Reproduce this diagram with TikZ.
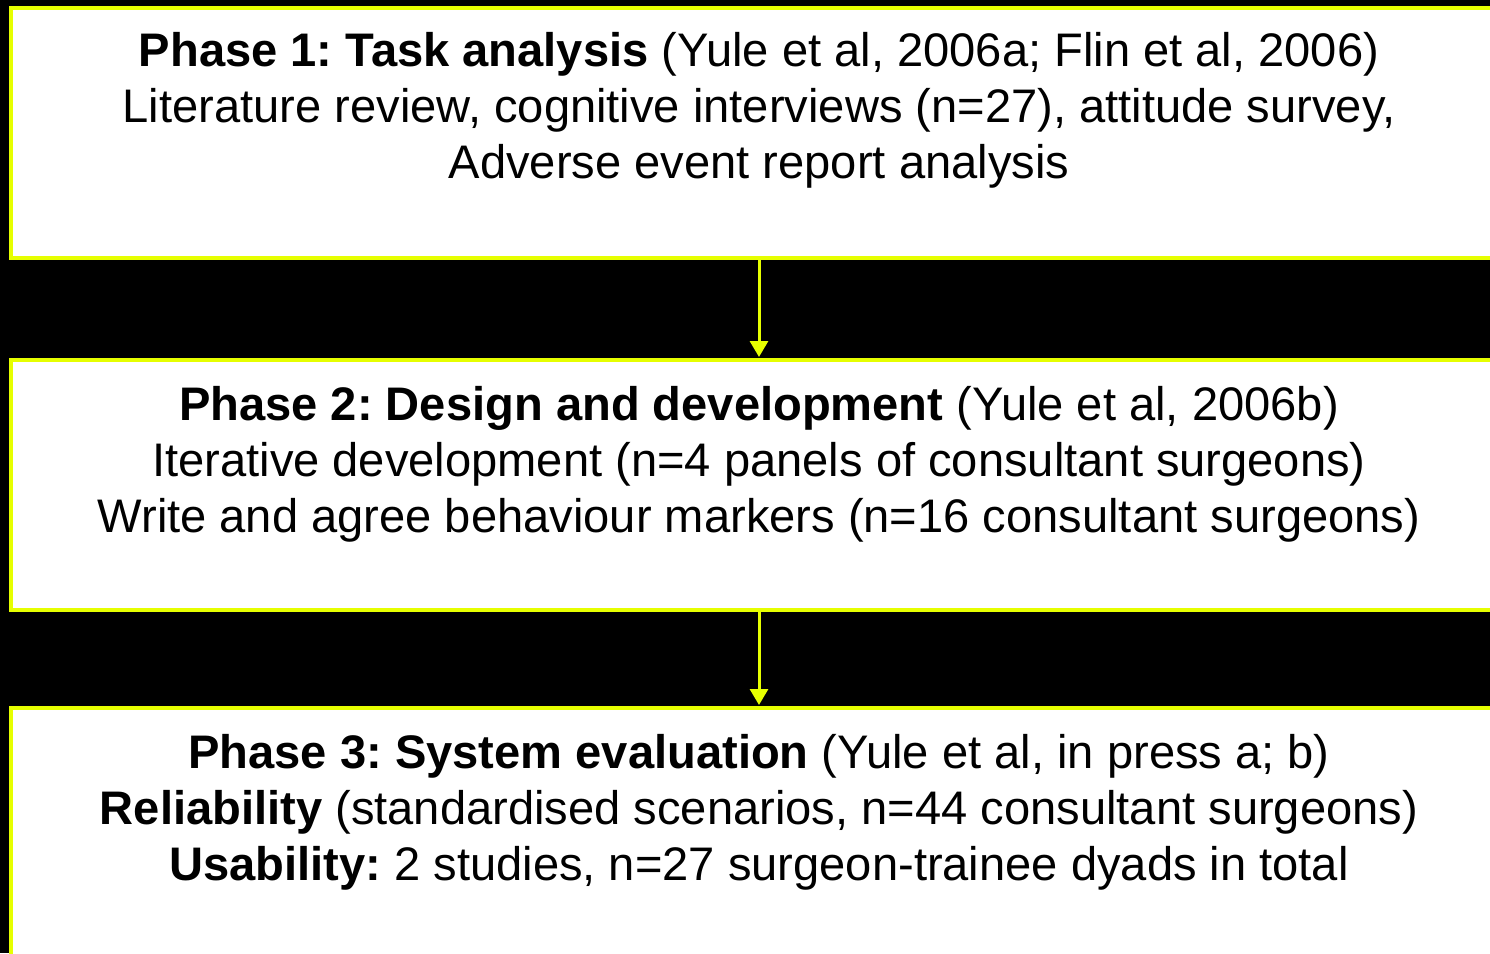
\documentclass[tikz,border=0pt]{standalone}
\usepackage{fontspec}
\setmainfont{Liberation Sans}
\usetikzlibrary{arrows.meta}
\definecolor{lineyellow}{RGB}{230,255,0}
\frenchspacing
\tikzset{
  box/.style={draw=lineyellow, line width=4pt, fill=white, minimum width=1496pt, minimum height=250pt, inner sep=0pt},
  boxtext/.style={anchor=north, align=center, inner sep=0pt, font=\fontsize{47.1pt}{56pt}\selectfont},
  flow/.style={draw=lineyellow, line width=3pt, -{Triangle[width=18pt,length=16pt]}, shorten >=1pt}
}
\newcommand{\firstline}{\rule{0pt}{40pt}}
\begin{document}
\begin{tikzpicture}[x=1pt,y=1pt]
\useasboundingbox (0,0) rectangle (1490,-953);
\clip (0,0) rectangle (1490,-953);
\fill[black] (0,0) rectangle (1490,-953);
\node[box] (b1) at (759,-133) {};
\node[box] (b2) at (759,-485) {};
\node[box] (b3) at (759,-833) {};
\node[boxtext] (t1) at (759,-26) {\firstline\textbf{Phase 1: Task analysis} (Yule et al, 2006a; Flin et al, 2006)\\Literature review, cognitive interviews (n=27), attitude survey,\\Adverse event report analysis};
\node[boxtext] (t2) at (759,-380) {\firstline\textbf{Phase 2: Design and development} (Yule et al, 2006b)\\Iterative development (n=4 panels of consultant surgeons)\\Write and agree behaviour markers (n=16 consultant surgeons)};
\node[boxtext] (t3) at (759,-728) {\firstline\textbf{Phase 3: System evaluation} (Yule et al, in press a; b)\\\textbf{Reliability} (standardised scenarios, n=44 consultant surgeons)\\\textbf{Usability:} 2 studies, n=27 surgeon-trainee dyads in total};
\draw[flow] (b1.south) -- (b2.north);
\draw[flow] (b2.south) -- (b3.north);
\end{tikzpicture}
\end{document}
